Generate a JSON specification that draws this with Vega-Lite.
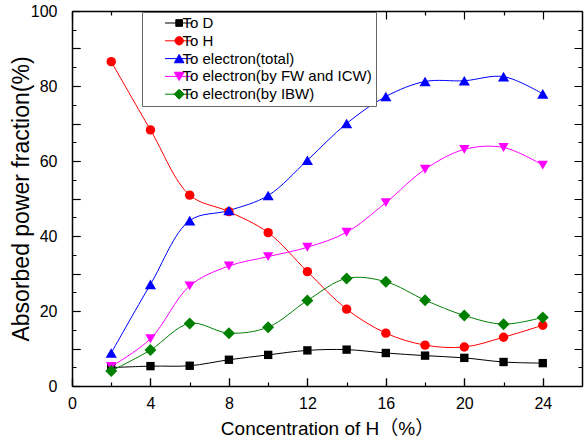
{
  "$schema": "https://vega.github.io/schema/vega-lite/v6.json",
  "width": 510,
  "height": 375,
  "autosize": {"type": "none"},
  "padding": {"left": 72, "top": 11, "right": 3, "bottom": 52},
  "background": "white",
  "data": {
    "values": [
      {"x": 2, "series": "To D", "value": 4.9},
      {"x": 4, "series": "To D", "value": 5.3},
      {"x": 6, "series": "To D", "value": 5.4},
      {"x": 8, "series": "To D", "value": 7.0},
      {"x": 10, "series": "To D", "value": 8.3},
      {"x": 12, "series": "To D", "value": 9.5},
      {"x": 14, "series": "To D", "value": 9.7},
      {"x": 16, "series": "To D", "value": 8.8},
      {"x": 18, "series": "To D", "value": 8.1},
      {"x": 20, "series": "To D", "value": 7.5},
      {"x": 22, "series": "To D", "value": 6.4},
      {"x": 24, "series": "To D", "value": 6.1},
      {"x": 2, "series": "To H", "value": 86.5},
      {"x": 4, "series": "To H", "value": 68.3},
      {"x": 6, "series": "To H", "value": 50.9},
      {"x": 8, "series": "To H", "value": 46.5},
      {"x": 10, "series": "To H", "value": 40.9},
      {"x": 12, "series": "To H", "value": 30.5},
      {"x": 14, "series": "To H", "value": 20.5},
      {"x": 16, "series": "To H", "value": 14.1},
      {"x": 18, "series": "To H", "value": 10.9},
      {"x": 20, "series": "To H", "value": 10.4},
      {"x": 22, "series": "To H", "value": 13.0},
      {"x": 24, "series": "To H", "value": 16.2},
      {"x": 2, "series": "To electron(total)", "value": 8.8},
      {"x": 4, "series": "To electron(total)", "value": 27.1},
      {"x": 6, "series": "To electron(total)", "value": 44.1},
      {"x": 8, "series": "To electron(total)", "value": 46.8},
      {"x": 10, "series": "To electron(total)", "value": 50.8},
      {"x": 12, "series": "To electron(total)", "value": 60.2},
      {"x": 14, "series": "To electron(total)", "value": 70.0},
      {"x": 16, "series": "To electron(total)", "value": 77.2},
      {"x": 18, "series": "To electron(total)", "value": 81.2},
      {"x": 20, "series": "To electron(total)", "value": 81.4},
      {"x": 22, "series": "To electron(total)", "value": 82.5},
      {"x": 24, "series": "To electron(total)", "value": 77.9},
      {"x": 2, "series": "To electron(by FW and ICW)", "value": 5.2},
      {"x": 4, "series": "To electron(by FW and ICW)", "value": 12.6},
      {"x": 6, "series": "To electron(by FW and ICW)", "value": 26.7},
      {"x": 8, "series": "To electron(by FW and ICW)", "value": 32.0},
      {"x": 10, "series": "To electron(by FW and ICW)", "value": 34.5},
      {"x": 12, "series": "To electron(by FW and ICW)", "value": 37.0},
      {"x": 14, "series": "To electron(by FW and ICW)", "value": 41.0},
      {"x": 16, "series": "To electron(by FW and ICW)", "value": 48.9},
      {"x": 18, "series": "To electron(by FW and ICW)", "value": 57.8},
      {"x": 20, "series": "To electron(by FW and ICW)", "value": 63.1},
      {"x": 22, "series": "To electron(by FW and ICW)", "value": 63.6},
      {"x": 24, "series": "To electron(by FW and ICW)", "value": 58.9},
      {"x": 2, "series": "To electron(by IBW)", "value": 4.0},
      {"x": 4, "series": "To electron(by IBW)", "value": 9.6},
      {"x": 6, "series": "To electron(by IBW)", "value": 16.7},
      {"x": 8, "series": "To electron(by IBW)", "value": 14.1},
      {"x": 10, "series": "To electron(by IBW)", "value": 15.7},
      {"x": 12, "series": "To electron(by IBW)", "value": 22.8},
      {"x": 14, "series": "To electron(by IBW)", "value": 28.7},
      {"x": 16, "series": "To electron(by IBW)", "value": 27.8},
      {"x": 18, "series": "To electron(by IBW)", "value": 22.9},
      {"x": 20, "series": "To electron(by IBW)", "value": 18.8},
      {"x": 22, "series": "To electron(by IBW)", "value": 16.5},
      {"x": 24, "series": "To electron(by IBW)", "value": 18.3}
    ]
  },
  "layer": [
    {
      "mark": {"type": "line", "strokeWidth": 1, "interpolate": "catmull-rom"},
      "encoding": {
        "x": {
          "field": "x", "type": "quantitative",
          "scale": {"domain": [0, 26], "nice": false, "zero": false},
          "axis": {
            "orient": "bottom",
            "values": [0, 4, 8, 12, 16, 20, 24],
            "tickSize": -8,
            "labelPadding": 17,
            "labelFontSize": 16,
            "labelFlush": false,
            "labelOverlap": false,
            "grid": true,
            "gridColor": "black",
            "gridWidth": 1.2,
            "gridOpacity": 1,
            "gridDash": [8, 359, 8, 3000],
            "title": "Concentration of H（%）",
            "titleFontSize": 19,
            "titlePadding": 8
          }
        },
        "y": {
          "field": "value", "type": "quantitative",
          "scale": {"domain": [0, 100], "nice": false},
          "axis": {
            "orient": "left",
            "values": [0, 10, 20, 30, 40, 50, 60, 70, 80, 90, 100],
            "labelExpr": "datum.value % 20 === 0 ? datum.label : ''",
            "tickSize": -8,
            "labelPadding": 23,
            "labelFontSize": 16,
            "labelFlush": false,
            "labelOverlap": false,
            "grid": true,
            "gridColor": "black",
            "gridWidth": 1.2,
            "gridOpacity": 1,
            "gridDash": [8, 494, 8, 3000],
            "title": "Absorbed power fraction(%)",
            "titleFontSize": 23,
            "titlePadding": -3
          }
        },
        "color": {
          "field": "series", "type": "nominal",
          "scale": {
            "domain": ["To D", "To H", "To electron(total)", "To electron(by FW and ICW)", "To electron(by IBW)"],
            "range": ["#000000", "#ff0000", "#0000ff", "#ff00ff", "#008000"]
          },
          "legend": {
            "orient": "none",
            "legendX": 70,
            "legendY": 1,
            "title": null,
            "strokeColor": "#666666",
            "fillColor": "white",
            "padding": 3.5,
            "labelFontSize": 15,
            "labelColor": "black",
            "labelLimit": 400,
            "rowPadding": 1.8,
            "symbolOffset": 12,
            "labelOffset": 10,
            "encode": {
              "symbols": {
                "update": {
                  "shape": {"signal": "datum.value === 'To D' ? 'M0,0H5.5M2.16,-0.67H3.5V0.67H2.16Z' : datum.value === 'To H' ? 'M0,0H5.5M3.66,0A0.83,0.83,0,1,1,2,0A0.83,0.83,0,1,1,3.66,0Z' : datum.value === 'To electron(total)' ? 'M0,0H5.5M2.83,-0.83L3.8,0.83L1.86,0.83Z' : datum.value === 'To electron(by FW and ICW)' ? 'M0,0H5.5M2.83,0.83L3.8,-0.83L1.86,-0.83Z' : 'M0,0H5.5M2.83,-1L3.83,0L2.83,1L1.83,0Z'"},
                  "size": {"value": 100},
                  "fill": {"signal": "scale('color', datum.value)"},
                  "stroke": {"signal": "scale('color', datum.value)"},
                  "strokeWidth": {"value": 1},
                  "opacity": {"value": 1}
                }
              }
            }
          }
        },
        "detail": {"field": "series"}
      }
    },
    {
      "mark": {"type": "point", "filled": true, "opacity": 1},
      "encoding": {
        "x": {
          "field": "x", "type": "quantitative",
          "axis": {
            "orient": "top",
            "values": [2, 6, 10, 14, 18, 22],
            "labels": false,
            "ticks": false,
            "grid": true,
            "gridColor": "black",
            "gridWidth": 1.2,
            "gridOpacity": 1,
            "gridDash": [4, 367, 4, 3000],
            "title": null
          }
        },
        "y": {
          "field": "value", "type": "quantitative",
          "axis": {
            "orient": "right",
            "values": [5, 15, 25, 35, 45, 55, 65, 75, 85, 95],
            "labels": false,
            "ticks": false,
            "grid": true,
            "gridColor": "black",
            "gridWidth": 1.2,
            "gridOpacity": 1,
            "gridDash": [4, 502, 4, 3000],
            "title": null
          }
        },
        "fill": {
          "field": "series", "type": "nominal",
          "scale": {
            "domain": ["To D", "To H", "To electron(by FW and ICW)", "To electron(total)", "To electron(by IBW)"],
            "range": ["#000000", "#ff0000", "#ff00ff", "#0000ff", "#008000"]
          },
          "legend": null
        },
        "shape": {
          "field": "series", "type": "nominal",
          "scale": {
            "domain": ["To D", "To H", "To electron(by FW and ICW)", "To electron(total)", "To electron(by IBW)"],
            "range": ["square", "circle", "triangle-down", "triangle-up", "diamond"]
          },
          "legend": null
        },
        "size": {
          "field": "series", "type": "nominal",
          "scale": {
            "type": "point",
            "domain": ["To D", "To H", "To electron(by FW and ICW)", "To electron(total)", "To electron(by IBW)"],
            "range": [70, 144],
            "padding": 0
          },
          "legend": null
        }
      }
    }
  ],
  "resolve": {"axis": {"x": "independent", "y": "independent"}},
  "config": {
    "view": {"stroke": null},
    "font": "Liberation Sans, Noto Sans CJK SC, sans-serif",
    "axis": {
      "domainColor": "black",
      "domainWidth": 1.5,
      "tickColor": "black",
      "tickWidth": 1.2,
      "labelColor": "black",
      "titleColor": "black",
      "titleFontWeight": "normal"
    }
  }
}
